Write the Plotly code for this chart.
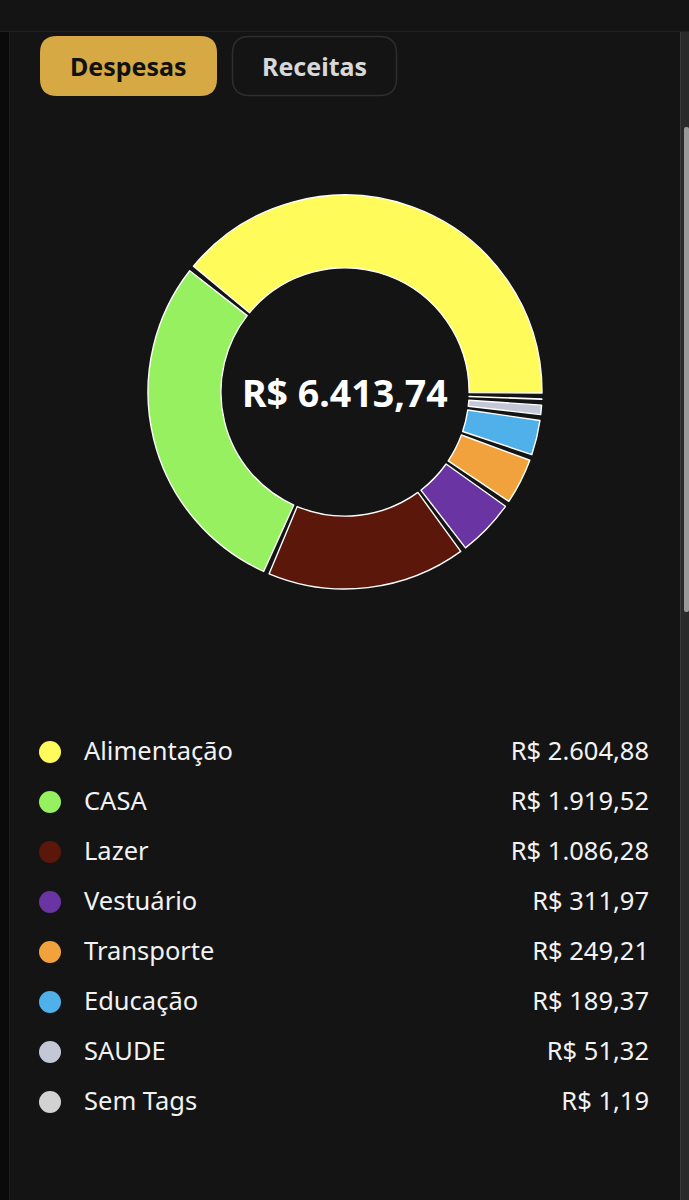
import plotly.graph_objects as go

W, H = 689, 1200

# ---- data ----
categories = ["Alimentação", "CASA", "Lazer", "Vestuário", "Transporte", "Educação", "SAUDE", "Sem Tags"]
values = [2604.88, 1919.52, 1086.28, 311.97, 249.21, 189.37, 51.32, 1.19]
value_labels = ["R$ 2.604,88", "R$ 1.919,52", "R$ 1.086,28", "R$ 311,97", "R$ 249,21", "R$ 189,37", "R$ 51,32", "R$ 1,19"]
colors = ["#FFFB5A", "#96F060", "#5C170B", "#6A35A2", "#F2A23C", "#4FB0EA", "#C3C7D6", "#D2D2D2"]
total_label = "R$ 6.413,74"
tabs = ["Despesas", "Receitas"]

BG = "#141414"
FONT = "Noto Sans"


def px(x):
    return x / W


def py(y):
    return 1 - y / H


def rrect(x0, y0, x1, y1, r):
    rx, ry = r / W, r / H
    X0, X1 = px(x0), px(x1)
    Y0, Y1 = py(y0), py(y1)  # Y0 top (larger), Y1 bottom
    return (f"M {X0+rx},{Y0} L {X1-rx},{Y0} Q {X1},{Y0} {X1},{Y0-ry} "
            f"L {X1},{Y1+ry} Q {X1},{Y1} {X1-rx},{Y1} L {X0+rx},{Y1} "
            f"Q {X0},{Y1} {X0},{Y1+ry} L {X0},{Y0-ry} Q {X0},{Y0} {X0+rx},{Y0} Z")


# ---- donut with small angular gaps between slices ----
total = sum(values)
GAP_DEG = 1.8
gap = total * GAP_DEG / 360
pie_vals, pie_cols, pie_lw = [], [], []
for v, c in zip(values, colors):
    pie_vals += [v, gap]
    pie_cols += [c, "rgba(0,0,0,0)"]
    pie_lw += [1.4, 0]
first_deg = values[0] / sum(pie_vals) * 360
# plotly places the first slice clockwise of `rotation` when direction is counterclockwise;
# put its clockwise end at 3 o'clock so it runs counterclockwise from there
rotation = 90 - first_deg + 0.3

cx, cy, R = 345, 392, 197
fig = go.Figure()
fig.add_trace(go.Pie(
    values=pie_vals,
    sort=False,
    direction="counterclockwise",
    rotation=rotation,
    hole=0.63,
    marker=dict(colors=pie_cols, line=dict(color="#FFFFFF", width=pie_lw)),
    textinfo="none",
    hoverinfo="skip",
    domain=dict(x=[px(cx - R), px(cx + R)], y=[py(cy + R), py(cy - R)]),
    showlegend=False,
))

# ---- legend list ----
n = len(categories)
rows = list(range(n))
fig.add_trace(go.Scatter(
    x=[50] * n, y=rows, mode="markers",
    marker=dict(size=22, color=colors, line=dict(width=0)),
    hoverinfo="skip", showlegend=False,
))
fig.add_trace(go.Scatter(
    x=[84] * n, y=rows, mode="text", text=categories, yaxis="y2",
    textposition="middle right",
    textfont=dict(family=FONT, size=25.5, color="#F2F2F2"),
    hoverinfo="skip", showlegend=False,
))
fig.add_trace(go.Scatter(
    x=[649] * n, y=rows, mode="text", text=value_labels, yaxis="y2",
    textposition="middle left",
    textfont=dict(family=FONT, size=25.5, color="#F2F2F2"),
    hoverinfo="skip", showlegend=False,
))

shapes = [
    # top bar
    dict(type="line", xref="paper", yref="paper", x0=0, x1=1, y0=py(31.5), y1=py(31.5),
         line=dict(color="#222222", width=1)),
    # left strip
    dict(type="rect", xref="paper", yref="paper", x0=0, x1=px(9), y0=0, y1=py(32),
         fillcolor="#0A0A0A", line=dict(width=0)),
    dict(type="line", xref="paper", yref="paper", x0=px(9.5), x1=px(9.5), y0=0, y1=py(32),
         line=dict(color="#1E1E1E", width=1)),
    # scrollbar
    dict(type="rect", xref="paper", yref="paper", x0=px(680), x1=1, y0=0, y1=py(32),
         fillcolor="#2A2A2A", line=dict(width=0)),
    dict(type="line", xref="paper", yref="paper", x0=px(680.5), x1=px(680.5), y0=0, y1=py(32),
         line=dict(color="#3C3C3C", width=1)),
    dict(type="path", xref="paper", yref="paper", path=rrect(684, 127, 689, 612, 2),
         fillcolor="#9A9A9A", line=dict(width=0)),
    # buttons
    dict(type="path", xref="paper", yref="paper", path=rrect(40, 36, 217, 96, 17),
         fillcolor="#D6A944", line=dict(width=0)),
    dict(type="path", xref="paper", yref="paper", path=rrect(232.5, 36.5, 396.5, 95.5, 17),
         fillcolor="#141414", line=dict(color="#2E2E2E", width=1.5)),
]

annotations = [
    dict(text=f"<b>{tabs[0]}</b>", x=px(128.5), y=py(66), xref="paper", yref="paper",
         showarrow=False, xanchor="center", yanchor="middle",
         font=dict(family=FONT, size=25, color="#111111")),
    dict(text=f"<b>{tabs[1]}</b>", x=px(314.5), y=py(66), xref="paper", yref="paper",
         showarrow=False, xanchor="center", yanchor="middle",
         font=dict(family=FONT, size=25, color="#D8D8D8")),
    dict(text=f"<b>{total_label}</b>", x=px(cx), y=py(cy), xref="paper", yref="paper",
         showarrow=False, xanchor="center", yanchor="middle",
         font=dict(family=FONT, size=37.5, color="#FFFFFF")),
]

fig.update_layout(
    width=W, height=H,
    margin=dict(l=0, r=0, t=0, b=0),
    paper_bgcolor=BG, plot_bgcolor="rgba(0,0,0,0)",
    showlegend=False,
    xaxis=dict(range=[0, W], domain=[0, 1], visible=False, fixedrange=True),
    yaxis=dict(range=[n - 0.5, -0.5], domain=[py(1127), py(727)],
               visible=False, fixedrange=True),
    yaxis2=dict(range=[n - 0.5, -0.5], domain=[py(1129), py(729)],
                visible=False, fixedrange=True),
    shapes=shapes,
    annotations=annotations,
)

fig.write_html(
    "out.html",
    config=dict(displayModeBar=False),
    post_script="document.body.style.margin='0';document.body.style.overflow='hidden';"
                "document.documentElement.style.background='#141414';",
)
